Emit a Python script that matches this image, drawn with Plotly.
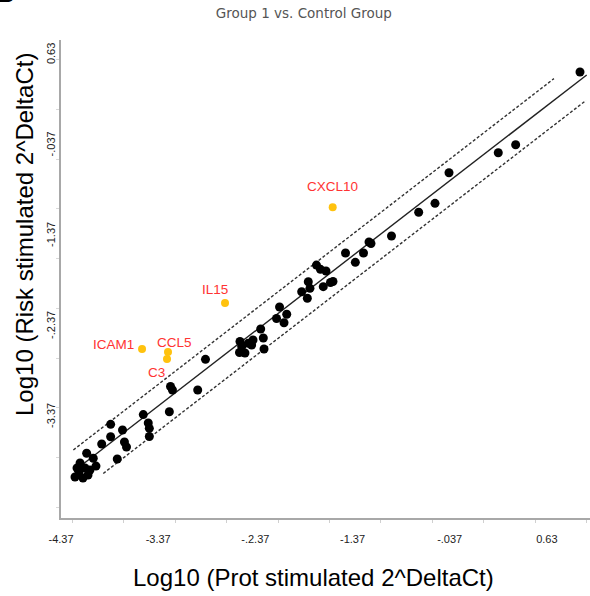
import plotly.graph_objects as go

# ---------------- data ----------------
black_x = [-4.174, -4.205, -4.226, -4.144, -4.092, -4.072, -4.185, -4.123,
           -4.106, -4.038, -4.010, -3.951, -3.859, -3.859, -3.791, -3.737, -3.717, -3.696,
           -3.523, -3.472, -3.461, -3.461, -3.255, -3.243, -3.223, -2.963, -2.883,
           -2.528, -2.510, -2.533, -2.477, -2.443, -2.394, -2.408, -2.288, -2.281,
           -2.315, -2.152, -2.121, -2.047, -2.075,
           -1.825, -1.808, -1.893, -1.835,
           -1.741, -1.700, -1.643, -1.671, -1.597, -1.571,
           -1.442, -1.341, -1.257, -1.200, -1.180, -0.969,
           -0.689, -0.521, -0.377, 0.130, 0.309, 0.971]
black_y = [-3.878, -3.934, -4.033, -4.044, -4.011, -3.956, -3.978, -3.934,
           -3.771, -3.826, -3.912, -3.668, -3.588, -3.451, -3.834, -3.514, -3.646, -3.702,
           -3.343, -3.436, -3.495, -3.586, -3.312, -3.033, -3.072, -3.072, -2.733,
           -2.536, -2.591, -2.657, -2.663, -2.556, -2.519, -2.575, -2.497, -2.619,
           -2.398, -2.282, -2.155, -2.235, -2.328,
           -1.875, -1.948, -1.986, -2.058,
           -1.691, -1.738, -1.757, -1.930, -1.884, -1.873,
           -1.558, -1.661, -1.558, -1.436, -1.453, -1.370,
           -1.108, -1.009, -0.671, -0.450, -0.361, 0.442]

genes = ["ICAM1", "CCL5", "C3", "IL15", "CXCL10"]
gene_x = [-3.536, -3.269, -3.279, -2.682, -1.574]
gene_y = [-2.619, -2.652, -2.729, -2.110, -1.053]

# fitted line y = fit_a + fit_b * x and its boundaries
fit_a = -0.453
fit_b = 0.8297
upper_off = 0.239
lower_off = -0.276
fit_xspan = [-4.195, 1.040]
upper_xspan = [-4.243, 0.703]
lower_xspan = [-3.935, 1.033]

tick_vals = [-4.37, -3.37, -2.37, -1.37, -0.37, 0.63]
x_tick_text = ["-4.37", "-3.37", "-.2.37", "-1.37", "-.037", "0.63"]
y_tick_text = ["-4.37", "-3.37", "-.2.37", "-1.37", "-.037", "0.63"]

title_text = "Group 1 vs. Control Group"
x_title = "Log10 (Prot stimulated 2^DeltaCt)"
y_title = "Log10 (Risk stimulated 2^DeltaCt)"

X_RANGE = [-4.37, 1.074]
Y_RANGE = [-4.486, 0.796]

# ---------------- figure ----------------
fig = go.Figure()

def line_pts(span, off):
    return span, [fit_a + off + fit_b * v for v in span]

for span, off, dash in [(upper_xspan, upper_off, "3px,2px"),
                        (lower_xspan, lower_off, "3px,2px"),
                        (fit_xspan, 0.0, "solid")]:
    lx, ly = line_pts(span, off)
    fig.add_trace(go.Scatter(x=lx, y=ly, mode="lines",
                             line=dict(color="#222" if dash == "solid" else "#333",
                                       width=1.4, dash=dash),
                             hoverinfo="skip", showlegend=False))

fig.add_trace(go.Scatter(x=black_x, y=black_y, mode="markers",
                         marker=dict(color="black", size=9, line=dict(width=0)),
                         showlegend=False))
fig.add_trace(go.Scatter(x=gene_x, y=gene_y, mode="markers",
                         marker=dict(color="#FFC20E", size=8, line=dict(width=0)),
                         showlegend=False))

label_shift = {"ICAM1": (-29, 5), "CCL5": (7, 10), "C3": (-11, -13),
               "IL15": (-10, 13), "CXCL10": (0, 21)}
annotations = []
for g, gx, gy in zip(genes, gene_x, gene_y):
    dx, dy = label_shift[g]
    annotations.append(dict(x=gx, y=gy, xref="x", yref="y", text=g, showarrow=False,
                            xshift=dx, yshift=dy,
                            font=dict(family="Liberation Sans, Arial", size=13.5, color="#FF3333")))

# axis titles
annotations.append(dict(x=0.5, y=0, xref="paper", yref="paper", text=x_title, showarrow=False,
                        xanchor="center", yanchor="middle", xshift=-12, yshift=-59,
                        font=dict(family="Liberation Sans, Arial", size=24, color="black")))
annotations.append(dict(x=0, y=0.5, xref="paper", yref="paper", text=y_title, showarrow=False,
                        textangle=-90, xanchor="center", yanchor="middle",
                        xshift=-37, yshift=44,
                        font=dict(family="Liberation Sans, Arial", size=24, color="black")))
# cropped panel letter in the top-left corner
annotations.append(dict(x=0, y=1, xref="paper", yref="paper", text="<b>B</b>", showarrow=False,
                        xanchor="left", yanchor="bottom", xshift=-67, yshift=30,
                        font=dict(family="Liberation Sans, Arial", size=26, color="black")))

fig.update_layout(
    width=590, height=596,
    margin=dict(l=61, r=0, t=40, b=78, autoexpand=False),
    paper_bgcolor="white", plot_bgcolor="white",
    title=dict(text=title_text, x=0.515, xanchor="center", y=0.977, yanchor="middle",
               font=dict(family="DejaVu Sans", size=13.5, color="#555")),
    showlegend=False,
    annotations=annotations,
)
fig.update_xaxes(range=X_RANGE, tickmode="array", tickvals=tick_vals,
                 ticktext=x_tick_text, ticks="outside", ticklen=10,
                 tickcolor="rgba(0,0,0,0)",
                 tickfont=dict(family="Liberation Sans, Arial", size=11, color="#222"),
                 showline=True, linecolor="#a8a8a8", linewidth=2,
                 showgrid=False, zeroline=False, automargin=False,
                 minor=dict(tickmode="linear", tick0=-3.722, dtick=0.529, ticks="outside",
                            ticklen=3, tickcolor="#d0d0d0", showgrid=False))
fig.update_yaxes(range=Y_RANGE, tickmode="array", tickvals=tick_vals[1:],
                 ticktext=y_tick_text[1:], tickangle=-90, ticks="",
                 tickfont=dict(family="Liberation Sans, Arial", size=11, color="#222"),
                 showline=True, linecolor="#a8a8a8", linewidth=2,
                 showgrid=False, zeroline=False, automargin=False,
                 minor=dict(tickmode="linear", tick0=-4.37, dtick=0.55, ticks="outside",
                            ticklen=3, tickcolor="#d8d8d8", showgrid=False))

fig.write_html("out.html", config={"displayModeBar": False},
               post_script="document.body.style.margin='0';document.body.style.overflow='hidden';")
